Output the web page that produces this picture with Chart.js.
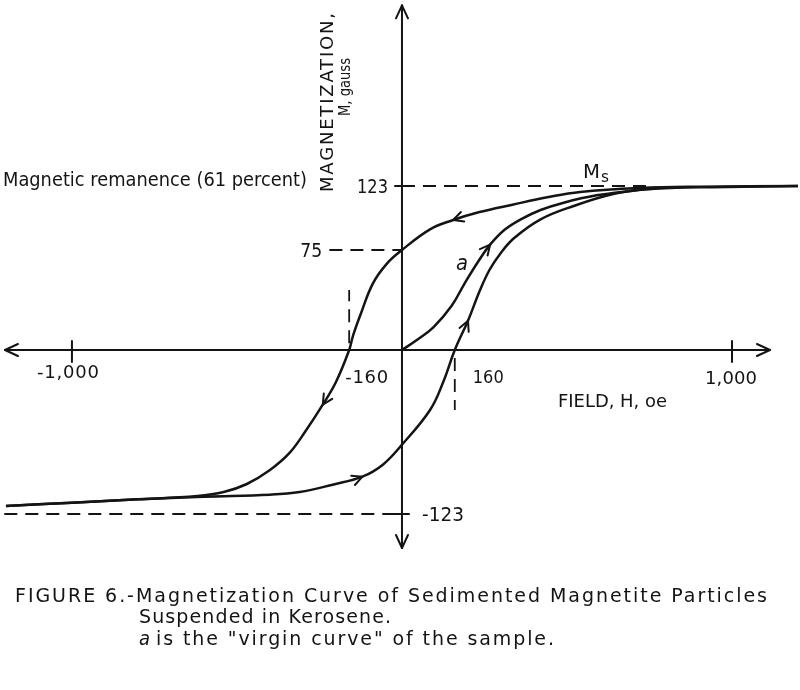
<!DOCTYPE html>
<html>
<head>
<meta charset="utf-8">
<title>Magnetization curve</title>
<script src="https://cdn.jsdelivr.net/npm/chart.js@4.4.1/dist/chart.umd.min.js"></script>
<style>
  html, body { margin: 0; padding: 0; background: #fff; }
  #wrap { width: 800px; height: 690px; }
</style>
</head>
<body>
<div id="wrap"><canvas id="ct-chart" width="800" height="690"></canvas></div>
<script>
"use strict";

// H (oe) and M (gauss)
// descending branch, from positive saturation to negative
const descX = [1200, 900, 720, 540, 440, 335, 235, 155, 85, 0, -45, -88, -125, -148, -160, -200, -240, -290, -340, -400, -470, -540, -620, -800, -1000, -1200];
const descY = [123, 122.5, 121.5, 118.5, 114.5, 109, 103.5, 97.5, 90.5, 75, 65, 50, 27, 11, 0, -24, -41, -60, -77, -90, -100.5, -106.5, -109.5, -112, -114.5, -117];
// ascending branch, from negative saturation to positive
const ascX = [-1200, -1000, -800, -600, -400, -310, -210, -120, -58, 0, 85, 125, 160, 200, 235, 265, 300, 340, 420, 520, 640, 740, 900, 1200];
const ascY = [-117, -114.5, -112, -110, -108.5, -106.5, -101, -95, -86, -71, -45, -24, 0, 22, 44, 60, 73, 84, 98, 108, 117, 120.5, 122, 123];
// virgin curve "a"
const virgX = [0, 45, 95, 150, 190, 230, 267, 310, 360, 420, 490, 590, 700, 760];
const virgY = [0, 7.5, 17, 33, 50, 66, 79, 90, 98, 105, 110.5, 116, 119.5, 121];

// dashed guide lines
const satLineX = [0, 760], satLineY = [123, 123];
const remLineX = [-220, 0], remLineY = [75, 75];
const negSatLineX = [-1205, 0], negSatLineY = [-123, -123];
const coerNegX = [-160, -160], coerNegY = [5, 45];
const coerPosX = [160, 160], coerPosY = [-6, -45];

// ticks
const xTicks = [-1000, 1000];
const yTicks = [123, -123];

// which point of each curve carries a direction arrow
const descArrows = [7, 16];
const ascArrows = [7, 13];
const virgArrows = [6];

const ink = "#141414";
const face = '"DejaVu Sans", "Noto Sans", sans-serif';

function toPoints(xs, ys) {
    return xs.map((x, i) => ({ x: x, y: ys[i] }));
}

function curve(label, xs, ys) {
    return {
        label: label,
        data: toPoints(xs, ys),
        showLine: true,
        borderColor: ink,
        borderWidth: 2.5,
        pointRadius: 0,
        fill: false,
        tension: 0.4
    };
}

function dashed(label, xs, ys) {
    return {
        label: label,
        data: toPoints(xs, ys),
        showLine: true,
        borderColor: ink,
        borderWidth: 1.8,
        borderDash: [13, 8],
        pointRadius: 0,
        fill: false,
        tension: 0
    };
}

function line(ctx, x1, y1, x2, y2) {
    ctx.beginPath();
    ctx.moveTo(x1, y1);
    ctx.lineTo(x2, y2);
    ctx.stroke();
}

// open arrow head with its tip at (tx, ty), pointing along (dx, dy)
function chevron(ctx, tx, ty, dx, dy, len, spread) {
    const n = Math.hypot(dx, dy) || 1;
    dx /= n; dy /= n;
    const bx = tx - dx * len, by = ty - dy * len;
    ctx.beginPath();
    ctx.moveTo(bx - dy * spread, by + dx * spread);
    ctx.lineTo(tx, ty);
    ctx.lineTo(bx + dy * spread, by - dx * spread);
    ctx.stroke();
}

// text fitted to a given width: spaced out when too short, squeezed when too long
function fitText(ctx, text, x, y, width, size, align, italic) {
    ctx.save();
    ctx.font = (italic ? 'italic ' : '') + size + 'px ' + face;
    ctx.textAlign = 'left';
    ctx.textBaseline = 'alphabetic';
    let left = x;
    if (align === 'right') left = x - width;
    if (align === 'center') left = x - width / 2;
    if ('letterSpacing' in ctx) ctx.letterSpacing = '0px';
    const w = ctx.measureText(text).width;
    if (width > w && 'letterSpacing' in ctx && text.length > 1) {
        ctx.letterSpacing = ((width - w) / (text.length - 1)) + 'px';
        ctx.fillText(text, left, y);
    } else {
        ctx.translate(left, y);
        ctx.scale(width / w, 1);
        ctx.fillText(text, 0, 0);
    }
    ctx.restore();
}

const decor = {
    id: 'decor',
    beforeDatasetsDraw(chart) {
        const { ctx, scales: { x, y } } = chart;
        const x0 = x.getPixelForValue(0), y0 = y.getPixelForValue(0);
        const left = x.getPixelForValue(-1203), right = x.getPixelForValue(1115);
        const top = y.getPixelForValue(258.5), bottom = y.getPixelForValue(-148.5);
        ctx.save();
        ctx.strokeStyle = ink;
        ctx.lineWidth = 2;
        ctx.lineCap = 'round';
        ctx.lineJoin = 'round';
        line(ctx, left, y0, right, y0);
        line(ctx, x0, top, x0, bottom);
        chevron(ctx, left, y0, -1, 0, 13, 6);
        chevron(ctx, right, y0, 1, 0, 13, 6);
        chevron(ctx, x0, top, 0, -1, 13, 6);
        chevron(ctx, x0, bottom, 0, 1, 13, 6);
        xTicks.forEach(v => {
            const px = x.getPixelForValue(v);
            line(ctx, px, y0 - 9, px, y0 + 12);
        });
        yTicks.forEach(v => {
            const py = y.getPixelForValue(v);
            line(ctx, x0 - 7, py, x0 + 7, py);
        });
        ctx.restore();
    },
    afterDatasetsDraw(chart) {
        const { ctx, scales: { x, y } } = chart;
        const x0 = x.getPixelForValue(0), y0 = y.getPixelForValue(0);
        ctx.save();
        ctx.strokeStyle = ink;
        ctx.fillStyle = ink;
        ctx.lineWidth = 2;
        ctx.lineCap = 'round';
        ctx.lineJoin = 'round';

        // direction arrows on the loop
        [[0, descArrows], [1, ascArrows], [2, virgArrows]].forEach(([di, idxs]) => {
            const pts = chart.getDatasetMeta(di).data;
            idxs.forEach(i => {
                const a = pts[i - 1], b = pts[i], c = pts[i + 1];
                chevron(ctx, b.x, b.y, c.x - a.x, c.y - a.y, 10, 5);
            });
        });

        // value labels
        fitText(ctx, '123', x0 - 14, y.getPixelForValue(123) + 7, 31, 19, 'right');
        fitText(ctx, '75', x.getPixelForValue(-220) - 7, y.getPixelForValue(75) + 7, 22, 19, 'right');
        fitText(ctx, '-123', x0 + 20, y.getPixelForValue(-123) + 7, 42, 19, 'left');
        fitText(ctx, '-1,000', x.getPixelForValue(-1000) - 4, y0 + 28, 62, 18, 'center');
        fitText(ctx, '-160', x.getPixelForValue(-160) - 4, y0 + 33, 43, 18, 'left');
        fitText(ctx, '160', x.getPixelForValue(160) + 18, y0 + 33, 31, 18, 'left');
        fitText(ctx, '1,000', x.getPixelForValue(1000) - 1, y0 + 34, 52, 18, 'center');
        fitText(ctx, 'FIELD, H, oe', 558, y0 + 57, 109, 18, 'left');

        // annotations
        fitText(ctx, 'Magnetic remanence (61 percent)', 3, 186, 304, 19, 'left');
        fitText(ctx, 'M', 583, 178, 17, 20, 'left');
        fitText(ctx, 's', 601, 182, 8, 15, 'left');
        fitText(ctx, 'a', 456, 270, 12, 21, 'left', true);

        // vertical axis title
        ctx.save();
        ctx.translate(333, 192);
        ctx.rotate(-Math.PI / 2);
        fitText(ctx, 'MAGNETIZATION,', 0, 0, 179, 18, 'left');
        ctx.restore();
        ctx.save();
        ctx.translate(350, 116);
        ctx.rotate(-Math.PI / 2);
        fitText(ctx, 'M, gauss', 0, 0, 58, 15, 'left');
        ctx.restore();

        // caption
        fitText(ctx, 'FIGURE 6.-Magnetization Curve of Sedimented Magnetite Particles', 15, 602, 752, 19, 'left');
        fitText(ctx, 'Suspended in Kerosene.', 139, 623, 252, 19, 'left');
        fitText(ctx, 'a', 139, 645, 11, 20, 'left', true);
        fitText(ctx, 'is the "virgin curve" of the sample.', 156, 645, 398, 19, 'left');
        ctx.restore();
    }
};

const chartConfig = {
    type: 'scatter',
    data: {
        datasets: [
            curve('descending', descX, descY),
            curve('ascending', ascX, ascY),
            curve('virgin curve a', virgX, virgY),
            dashed('Ms', satLineX, satLineY),
            dashed('remanence', remLineX, remLineY),
            dashed('-Ms', negSatLineX, negSatLineY),
            dashed('-Hc', coerNegX, coerNegY),
            dashed('Hc', coerPosX, coerPosY)
        ]
    },
    options: {
        responsive: false,
        animation: false,
        layout: { padding: { left: 0, right: 0, top: 0, bottom: 130 } },
        scales: {
            x: { type: 'linear', min: -1218, max: 1206, display: false },
            y: { type: 'linear', min: -157.5, max: 262.5, display: false }
        },
        plugins: {
            legend: { display: false },
            tooltip: { enabled: false }
        }
    },
    plugins: [decor]
};

new Chart(document.getElementById('ct-chart').getContext('2d'), chartConfig);
</script>
</body>
</html>
